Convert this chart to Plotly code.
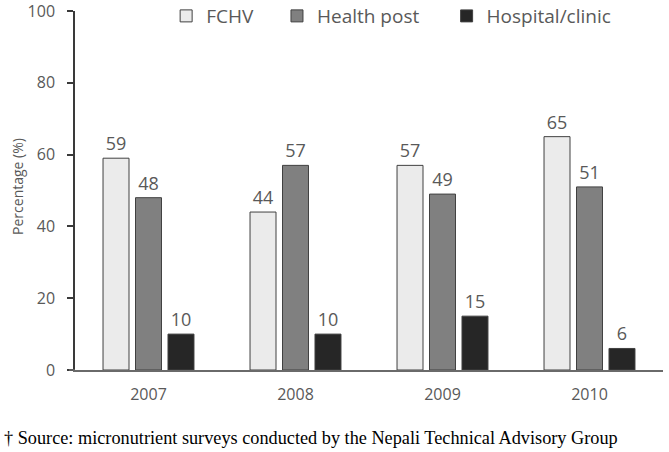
import plotly.graph_objects as go

years = ["2007", "2008", "2009", "2010"]
fchv = [59, 44, 57, 65]
health_post = [48, 57, 49, 51]
hospital = [10, 10, 15, 6]
series_names = ["FCHV", "Health post", "Hospital/clinic"]
colors = ["#ebebeb", "#808080", "#262626"]
y_ticks = [0, 20, 40, 60, 80, 100]

FONT = "Open Sans, sans-serif"
GRAY = "#595959"

fig = go.Figure()
legend_ids = ["legend", "legend2", "legend3"]
for name, vals, col, lg in zip(series_names, [fchv, health_post, hospital], colors, legend_ids):
    fig.add_trace(go.Bar(
        name=name, x=years, y=vals, legend=lg,
        marker=dict(color=col, line=dict(color="#404040", width=1)),
        text=[str(v) for v in vals], textposition="outside",
        textfont=dict(family=FONT, size=18, color=GRAY),
        cliponaxis=False,
    ))

leg_common = dict(orientation="h", y=0.986, yanchor="middle", xanchor="left",
                  font=dict(family=FONT, size=19, color=GRAY),
                  bgcolor="rgba(0,0,0,0)", itemwidth=30)
fig.update_layout(
    width=669, height=452,
    margin=dict(l=75, r=6, t=11, b=82, autoexpand=False),
    paper_bgcolor="white", plot_bgcolor="white",
    barmode="group", bargap=0.337, bargroupgap=0.2,
    font=dict(family=FONT, color=GRAY),
    legend=dict(x=0.155, **leg_common),
    legend2=dict(x=0.3435, **leg_common),
    legend3=dict(x=0.632, **leg_common),
    showlegend=True,
)
fig.update_yaxes(
    range=[0, 100], tickvals=y_ticks, showgrid=False, zeroline=False,
    showline=True, linecolor="#3a3a3a", linewidth=1.5,
    ticks="outside", ticklen=6, tickcolor="#3a3a3a", tickwidth=1.5,
    ticklabelstandoff=9, ticklabeloverflow="allow", automargin=False,
    tickfont=dict(family=FONT, size=16, color=GRAY),
)
fig.update_xaxes(
    showgrid=False, showline=True, linecolor="#6a6a6a", linewidth=1.5,
    ticks="", ticklabelstandoff=9, ticklabeloverflow="allow", automargin=False,
    tickfont=dict(family=FONT, size=16, color=GRAY),
)
fig.add_shape(type="line", xref="paper", yref="paper", x0=-6/588, x1=0, y0=0, y1=0,
              line=dict(color="#6a6a6a", width=1.5))
fig.add_annotation(
    text="Percentage (%)", textangle=-90,
    xref="paper", yref="paper", x=-57/588, y=0.51, xanchor="center", yanchor="middle",
    showarrow=False, font=dict(family=FONT, size=14, color=GRAY),
)
fig.add_annotation(
    text="† Source: micronutrient surveys conducted by the Nepali Technical Advisory Group",
    xref="paper", yref="paper", x=-73/588, y=-68/359, xanchor="left", yanchor="middle",
    showarrow=False, font=dict(family="Liberation Serif, serif", size=18.25, color="#000000"),
)
fig.write_html("out.html", config={"displayModeBar": False},
               post_script="document.body.style.margin='0';")
